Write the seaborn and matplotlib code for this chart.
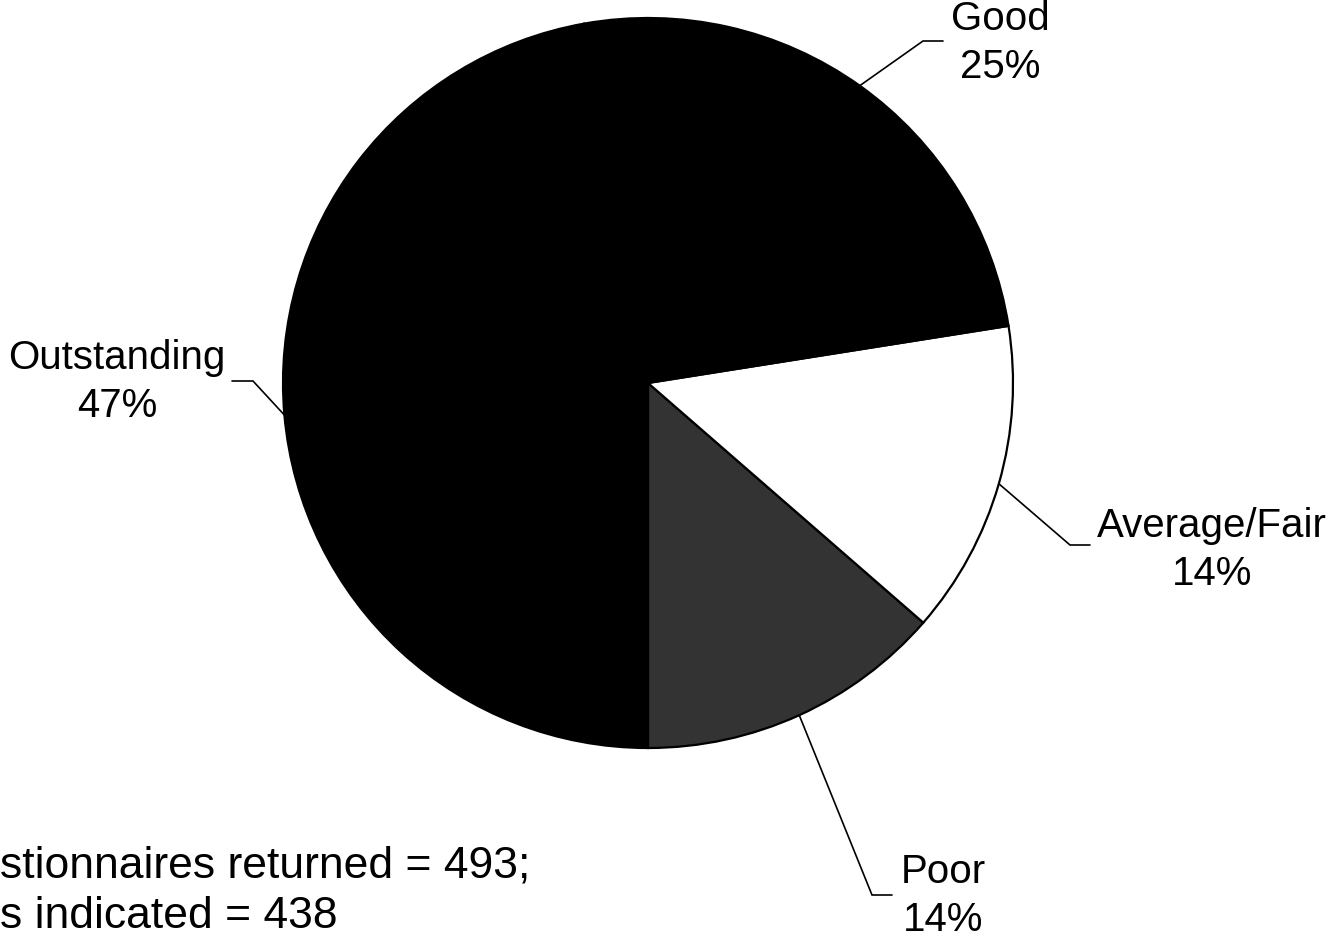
import numpy as np
import matplotlib
matplotlib.use("Agg")
import matplotlib.pyplot as plt
import seaborn as sns

# data (counter-clockwise from the bottom, as drawn)
categories = ["Poor", "Average/Fair", "Good", "Outstanding"]
shares = [13.6, 13.9, 25.3, 47.2]
colors = ["#333333", "#ffffff", "#000000", "#000000"]
note_lines = ["stionnaires returned = 493;", "s indicated = 438"]

sns.set_style("white")
plt.rcParams["font.family"] = ["Liberation Sans", "DejaVu Sans"]

W, H = 1334, 940
fig = plt.figure(figsize=(W / 100, H / 100), dpi=100)
ax = fig.add_axes([0, 0, 1, 1])

cx, cy, r = 648, H - 383, 365
wedges, _ = ax.pie(shares, colors=colors, startangle=-90, counterclock=True,
                   center=(cx, cy), radius=r,
                   wedgeprops=dict(edgecolor="black", linewidth=1.6))
ax.set_xlim(0, W)
ax.set_ylim(0, H)
ax.set_aspect("equal")
ax.axis("off")

# label layout: elbow of leader, end of leader, text centre (pixel coords, y down)
layout = {
    "Good": ((923, 41), (943, 41), (1000, 43)),
    "Outstanding": ((253, 381), (232, 381), (117, 382)),
    "Average/Fair": ((1070, 545), (1090, 545), (1212, 550)),
    "Poor": ((872, 895), (892, 895), (943, 896)),
}

for w, name, val in zip(wedges, categories, shares):
    mid = np.deg2rad((w.theta1 + w.theta2) / 2)
    x0, y0 = cx + r * np.cos(mid), cy + r * np.sin(mid)
    (ex, ey), (fx, fy), (tx, ty) = layout[name]
    ax.plot([x0, ex, fx], [y0, H - ey, H - fy], color="black", lw=1.2,
            solid_joinstyle="miter")
    ax.text(tx, H - ty, f"{name}\n{val:.0f}%", ha="center", va="center",
            multialignment="center", fontsize=29, linespacing=1.32,
            color="black")

ax.text(0, H - 866, note_lines[0], ha="left", va="center", fontsize=32,
        color="black")
ax.text(0, H - 916, note_lines[1], ha="left", va="center", fontsize=32,
        color="black")

fig.savefig("out.png", dpi=100)
